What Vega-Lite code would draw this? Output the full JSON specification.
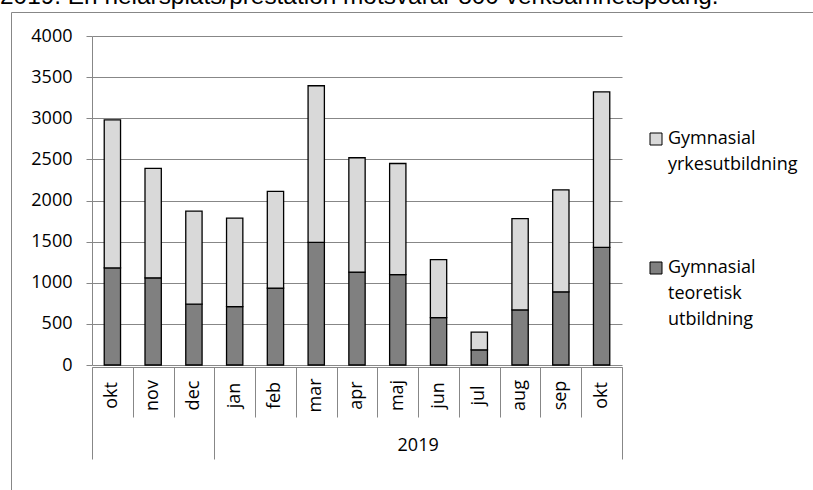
{
  "$schema": "https://vega.github.io/schema/vega-lite/v6.json",
  "autosize": {"type": "none"},
  "padding": {"left": 11, "top": 12, "right": 0, "bottom": 0},
  "width": 804,
  "height": 480,
  "title": {
    "text": "2019. En helårsplats/prestation motsvarar 800 verksamhetspoäng.",
    "anchor": "start",
    "frame": "group",
    "font": "Liberation Sans",
    "fontSize": 24.4,
    "fontWeight": "normal",
    "color": "#000000",
    "baseline": "alphabetic",
    "offset": 4,
    "dx": -11,
    "dy": 20
  },
  "config": {
    "view": {"stroke": "#878787", "strokeWidth": 1},
    "font": "Open Sans",
    "style": {"guide-label": {"lineHeight": 26}}
  },
  "datasets": {
    "bars": [
      {"key": "2018-okt", "series": "Gymnasial teoretisk utbildning", "value": 1180},
      {"key": "2018-okt", "series": "Gymnasial yrkesutbildning", "value": 1800},
      {"key": "2018-nov", "series": "Gymnasial teoretisk utbildning", "value": 1060},
      {"key": "2018-nov", "series": "Gymnasial yrkesutbildning", "value": 1330},
      {"key": "2018-dec", "series": "Gymnasial teoretisk utbildning", "value": 740},
      {"key": "2018-dec", "series": "Gymnasial yrkesutbildning", "value": 1130},
      {"key": "2019-jan", "series": "Gymnasial teoretisk utbildning", "value": 710},
      {"key": "2019-jan", "series": "Gymnasial yrkesutbildning", "value": 1075},
      {"key": "2019-feb", "series": "Gymnasial teoretisk utbildning", "value": 935},
      {"key": "2019-feb", "series": "Gymnasial yrkesutbildning", "value": 1175},
      {"key": "2019-mar", "series": "Gymnasial teoretisk utbildning", "value": 1490},
      {"key": "2019-mar", "series": "Gymnasial yrkesutbildning", "value": 1905},
      {"key": "2019-apr", "series": "Gymnasial teoretisk utbildning", "value": 1130},
      {"key": "2019-apr", "series": "Gymnasial yrkesutbildning", "value": 1390},
      {"key": "2019-maj", "series": "Gymnasial teoretisk utbildning", "value": 1100},
      {"key": "2019-maj", "series": "Gymnasial yrkesutbildning", "value": 1350},
      {"key": "2019-jun", "series": "Gymnasial teoretisk utbildning", "value": 575},
      {"key": "2019-jun", "series": "Gymnasial yrkesutbildning", "value": 705},
      {"key": "2019-jul", "series": "Gymnasial teoretisk utbildning", "value": 185},
      {"key": "2019-jul", "series": "Gymnasial yrkesutbildning", "value": 215},
      {"key": "2019-aug", "series": "Gymnasial teoretisk utbildning", "value": 670},
      {"key": "2019-aug", "series": "Gymnasial yrkesutbildning", "value": 1110},
      {"key": "2019-sep", "series": "Gymnasial teoretisk utbildning", "value": 890},
      {"key": "2019-sep", "series": "Gymnasial yrkesutbildning", "value": 1240},
      {"key": "2019-okt", "series": "Gymnasial teoretisk utbildning", "value": 1430},
      {"key": "2019-okt", "series": "Gymnasial yrkesutbildning", "value": 1890}
    ],
    "groups": [
      {"year": "2018", "start": 0, "end": 3},
      {"year": "2019", "start": 3, "end": 13}
    ]
  },
  "layer": [
    {
      "data": {"name": "bars"},
      "mark": {"type": "bar", "stroke": "#000000", "strokeWidth": 1.3},
      "encoding": {
        "x": {
          "field": "key",
          "type": "nominal",
          "sort": null,
          "scale": {"range": [81, 611], "paddingInner": 0.6, "paddingOuter": 0.3},
          "axis": {
            "orient": "bottom",
            "offset": -125,
            "title": null,
            "domainColor": "#878787",
            "domainWidth": 1,
            "ticks": false,
            "tickSize": 0,
            "labelAngle": 270,
            "labelAlign": "center",
            "labelBaseline": "middle",
            "labelPadding": 28,
            "labelFontSize": 18,
            "labelFont": "Open Sans",
            "labelColor": "#000000",
            "labelExpr": "split(datum.label, '-')[1]"
          }
        },
        "y": {
          "field": "value",
          "type": "quantitative",
          "stack": "zero",
          "scale": {"domain": [0, 4000], "range": [353, 24], "nice": false},
          "axis": {
            "title": null,
            "orient": "left",
            "offset": -81,
            "values": [0, 500, 1000, 1500, 2000, 2500, 3000, 3500, 4000],
            "format": "d",
            "grid": true,
            "gridColor": "#878787",
            "gridWidth": 1.2,
            "domainColor": "#878787",
            "domainWidth": 1,
            "tickColor": "#878787",
            "tickSize": 6,
            "labelPadding": 14,
            "labelFontSize": 18,
            "labelFont": "Open Sans",
            "labelColor": "#000000"
          }
        },
        "color": {
          "field": "series",
          "type": "nominal",
          "scale": {
            "domain": ["Gymnasial yrkesutbildning", "Gymnasial teoretisk utbildning"],
            "range": ["#d9d9d9", "#808080"]
          },
          "legend": {
            "title": null,
            "orient": "none",
            "legendX": 636,
            "legendY": 118,
            "padding": 0,
            "symbolType": "square",
            "symbolSize": 144,
            "symbolStrokeColor": "#000000",
            "symbolStrokeWidth": 1,
            "labelFontSize": 18,
            "labelFont": "Open Sans",
            "labelColor": "#000000",
            "labelLimit": 0,
            "labelOffset": 3,
            "rowPadding": 85,
            "labelExpr": "split(datum.label, ' ')"
          }
        },
        "order": {"field": "series", "sort": "ascending"}
      }
    },
    {
      "data": {"name": "groups"},
      "mark": {"type": "rule", "opacity": 0},
      "encoding": {
        "x": {
          "field": "start",
          "type": "quantitative",
          "scale": {"domain": [0, 13], "range": [81, 611], "nice": false, "zero": false},
          "axis": {
            "orient": "bottom",
            "offset": -125,
            "title": null,
            "values": [0, 1, 2, 3, 4, 5, 6, 7, 8, 9, 10, 11, 12, 13],
            "labels": false,
            "domain": false,
            "grid": false,
            "tickSize": 50,
            "tickColor": "#878787",
            "tickWidth": 1
          }
        }
      }
    },
    {
      "data": {"name": "groups"},
      "mark": {"type": "rule", "opacity": 0},
      "encoding": {
        "x": {
          "field": "end",
          "type": "quantitative",
          "scale": {"domain": [0, 13], "range": [81, 611], "nice": false, "zero": false},
          "axis": {
            "orient": "bottom",
            "offset": -125,
            "title": null,
            "values": [0, 3, 13],
            "labels": false,
            "domain": false,
            "grid": false,
            "tickSize": 92,
            "tickColor": "#878787",
            "tickWidth": 1
          }
        }
      }
    },
    {
      "data": {"name": "bars"},
      "mark": {"type": "rule", "opacity": 0},
      "encoding": {
        "x": {
          "field": "key",
          "type": "nominal",
          "sort": null,
          "scale": {"range": [81, 611], "paddingInner": 0.6, "paddingOuter": 0.3},
          "axis": {
            "orient": "bottom",
            "offset": -125,
            "title": null,
            "values": ["2019-jun"],
            "labelExpr": "split(datum.value, '-')[0]",
            "ticks": false,
            "tickSize": 0,
            "domain": false,
            "grid": false,
            "labelAngle": 0,
            "labelAlign": "center",
            "labelBaseline": "middle",
            "labelPadding": 78,
            "labelOffset": -20.38,
            "labelFontSize": 18,
            "labelFont": "Open Sans",
            "labelColor": "#000000"
          }
        }
      }
    }
  ],
  "resolve": {"scale": {"x": "independent"}, "axis": {"x": "independent"}}
}
